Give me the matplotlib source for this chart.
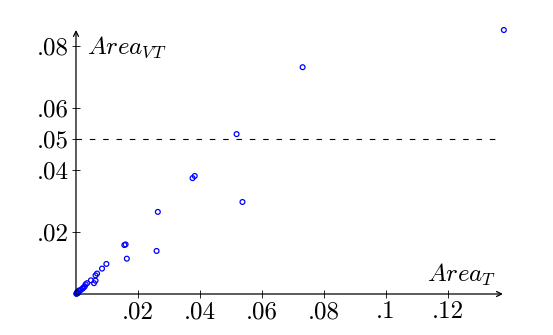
import numpy as np
import matplotlib.pyplot as plt

plt.rcParams['mathtext.fontset'] = 'cm'
plt.rcParams['font.family'] = 'cmr10'
plt.rcParams['axes.unicode_minus'] = False

# data
area_t = [0.138, 0.0731, 0.0518, 0.0537, 0.0383, 0.0376, 0.0264, 0.026,
          0.0156, 0.016, 0.0164, 0.0098, 0.0084, 0.0068, 0.0063, 0.0058,
          0.0063, 0.0048, 0.0036, 0.0028, 0.0021, 0.0012, 0.0007, 0.0003,
          0.0004, 0.0009, 0.0016, 0.0024, 0.0031, 0.0002, 0.0005, 0.0001]
area_vt = [0.0852, 0.0732, 0.0516, 0.0297, 0.0381, 0.0374, 0.0265, 0.0139,
           0.0158, 0.016, 0.0114, 0.0097, 0.0082, 0.0066, 0.006, 0.0035,
           0.0043, 0.0044, 0.0035, 0.0024, 0.0017, 0.001, 0.0004, 0.0002,
           0.0006, 0.0011, 0.0014, 0.0021, 0.0031, 0.0001, 0.0003, 0.0001]
threshold = 0.05
xticks = [0.02, 0.04, 0.06, 0.08, 0.1, 0.12]
xlabels = ['.02', '.04', '.06', '.08', '.1', '.12']
yticks = [0.02, 0.04, 0.05, 0.06, 0.08]
ylabels = ['.02', '.04', '.05', '.06', '.08']

fig = plt.figure(figsize=(5.53, 3.35), dpi=100)
ax = fig.add_axes([0.1374, 0.1224, 0.772, 0.788])
ax.set_xlim(0, 0.1377)
ax.set_ylim(0, 0.0852)

ax.scatter(area_t, area_vt, s=12, facecolors='none', edgecolors='blue',
           linewidths=0.9, zorder=3, clip_on=False)
ax.axhline(threshold, color='black', lw=0.8, linestyle=(0, (5, 7)))

for s in ax.spines.values():
    s.set_visible(False)
ax.annotate('', xy=(1.0, 0), xytext=(0, 0), xycoords='axes fraction',
            arrowprops=dict(arrowstyle='->', lw=0.9, color='black',
                            mutation_scale=9, shrinkA=0, shrinkB=0))
ax.annotate('', xy=(0, 1.0), xytext=(0, 0), xycoords='axes fraction',
            arrowprops=dict(arrowstyle='->', lw=0.9, color='black',
                            mutation_scale=9, shrinkA=0, shrinkB=0))

ax.set_xticks(xticks)
ax.set_xticklabels(xlabels)
ax.set_yticks(yticks)
ax.set_yticklabels(ylabels)
ax.tick_params(direction='inout', length=6, width=0.6, labelsize=18, pad=2)

ax.text(0.0036, 0.0797, '$Area_{VT}$', fontsize=18, va='center', ha='left')
ax.text(0.1355, 0.0063, '$Area_T$', fontsize=18, va='center', ha='right')

fig.savefig('out.png', dpi=100)
